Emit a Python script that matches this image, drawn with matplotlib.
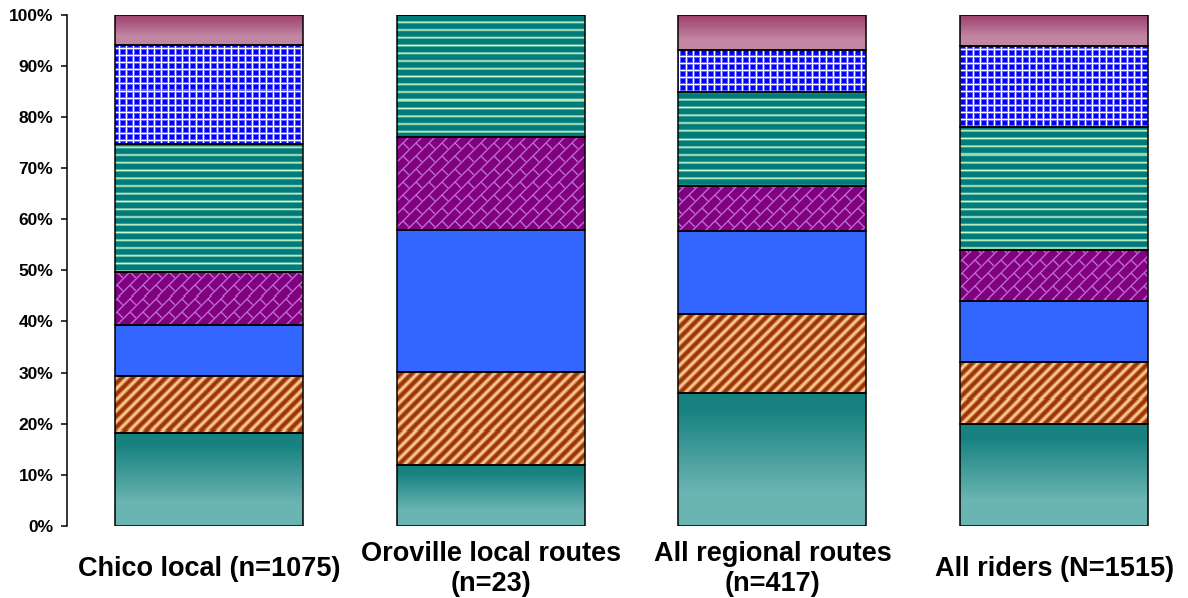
import numpy as np
import matplotlib
matplotlib.use("Agg")
import matplotlib.pyplot as plt
from matplotlib.ticker import MultipleLocator, PercentFormatter

# Categories (one stacked bar each)
categories = ["Chico local (n=1075)", "Oroville local routes\n(n=23)",
              "All regional routes\n(n=417)", "All riders (N=1515)"]

# Share of riders (percent) in each response group, bottom to top
seg1 = [18.1, 11.9, 26.1, 19.9]
seg2 = [11.2, 18.2, 15.4, 12.2]
seg3 = [10.0, 27.8, 16.2, 12.0]
seg4 = [10.4, 18.1, 8.8, 9.9]
seg5 = [25.0, 24.0, 18.4, 24.1]
seg6 = [19.4, 0.0, 8.2, 15.8]
seg7 = [5.9, 0.0, 6.9, 6.1]

series = [seg1, seg2, seg3, seg4, seg5, seg6, seg7]

W, H, DPI = 1188, 598, 100
plt.rcParams["font.family"] = ["Liberation Sans", "DejaVu Sans"]
plt.rcParams["font.weight"] = "bold"

fig = plt.figure(figsize=(W / DPI, H / DPI), dpi=DPI)
ax = fig.add_axes([66.5 / W, (H - 526) / H, 1126.8 / W, (526 - 14.7) / H])


# ---- fill textures, built in figure pixel space ----
def _mix(c0, c1, w):
    c0 = np.asarray(c0, float) / 255
    c1 = np.asarray(c1, float) / 255
    w = np.clip(w, 0, 1)[..., None]
    return c0 * (1 - w) + c1 * w


def tex_teal(cols, rows, frac):
    t = np.clip((frac - 0.12) / 0.62, 0, 1)
    return _mix((22, 129, 127), (106, 180, 178), t)


def tex_stripes(cols, rows, frac):
    a = cols + rows
    w = ((1 + np.cos(2 * np.pi * a / 11.0)) / 2) ** 1.5
    return _mix((153, 51, 0), (255, 204, 153), w)


def tex_blue(cols, rows, frac):
    return _mix((51, 102, 255), (51, 102, 255), np.zeros_like(frac))


def tex_brick(cols, rows, frac):
    a = cols + rows
    b = cols - rows
    pa, pb = 13.0, 26.0
    am = np.mod(a, pa)
    da = np.minimum(am, pa - am)
    w1 = np.clip(1 - da / 1.8, 0, 1)
    k = np.floor(a / pa)
    bm = np.mod(b + np.mod(k, 2) * pb / 2, pb)
    db = np.minimum(bm, pb - bm)
    w2 = np.clip(1 - db / 1.8, 0, 1)
    return _mix((128, 0, 128), (200, 122, 222), np.maximum(w1, w2) * 0.9)


def tex_hstripes(cols, rows, frac):
    p = 7.75
    s = np.mod(rows, p)
    d = np.minimum(s, p - s)
    w = np.clip(1 - d / 1.7, 0, 1)
    return _mix((0, 123, 123), (210, 250, 200), w)


def tex_grid(cols, rows, frac):
    p = 7.0
    sx = np.mod(cols - 0.5, p)
    sy = np.mod(rows - 0.5, p)
    dx = np.minimum(sx, p - sx)
    dy = np.minimum(sy, p - sy)
    w = np.maximum(np.clip(1 - dx * 0.6, 0, 1), np.clip(1 - dy * 0.6, 0, 1))
    w = np.where(np.maximum(dx, dy) > 0, w, 1.0)
    w = np.where(np.minimum(dx, dy) >= 2, 0.0, w)
    return _mix((0, 0, 255), (255, 255, 255), w)


def tex_mauve(cols, rows, frac):
    t = np.clip(frac / 0.7, 0, 1)
    return _mix((154, 56, 104), (194, 134, 163), t)


textures = [tex_teal, tex_stripes, tex_blue, tex_brick, tex_hstripes,
            tex_grid, tex_mauve]

x = np.arange(len(categories))
width = 0.667
ax.set_xlim(-0.506, len(categories) - 0.506)
ax.set_ylim(0, 100)

bottoms = np.zeros(len(categories))
for vals, tex in zip(series, textures):
    vals = np.asarray(vals, float)
    bars = ax.bar(x, vals, width, bottom=bottoms, facecolor="none",
                  edgecolor="black", linewidth=1.1, zorder=3)
    for bar, v, b0 in zip(bars, vals, bottoms):
        if v <= 0:
            continue
        xl, xr = bar.get_x(), bar.get_x() + bar.get_width()
        (px0, py0), (px1, py1) = ax.transData.transform([(xl, b0), (xr, b0 + v)])
        c0, c1 = int(np.floor(px0)), int(np.ceil(px1))
        r0, r1 = int(np.floor(H - py1)), int(np.ceil(H - py0))
        cols, rows = np.meshgrid(np.arange(c0, c1) + 0.5, np.arange(r0, r1) + 0.5)
        frac = (rows - r0) / max(r1 - r0, 1)
        img = tex(cols, rows, frac)
        inv = ax.transData.inverted()
        (dx0, dy0), (dx1, dy1) = inv.transform([(c0, H - r1), (c1, H - r0)])
        im = ax.imshow(img, extent=(dx0, dx1, dy0, dy1), origin="upper",
                       interpolation="nearest", aspect="auto", zorder=2)
        im.set_clip_path(bar)
    bottoms = bottoms + vals

ax.set_xlim(-0.506, len(categories) - 0.506)
ax.set_ylim(0, 100)

# axes styling
for side in ("top", "right", "bottom"):
    ax.spines[side].set_visible(False)
ax.spines["left"].set_linewidth(1.1)
ax.yaxis.set_major_locator(MultipleLocator(10))
ax.yaxis.set_major_formatter(PercentFormatter(decimals=0))
ax.tick_params(axis="y", direction="out", length=4, width=1.1, pad=5.5,
               labelsize=12.5)
for lab in ax.get_yticklabels():
    lab.set_fontweight("bold")

ax.set_xticks(x)
ax.set_xticklabels(categories, fontsize=19.5, fontweight="bold",
                   linespacing=1.22)
ax.tick_params(axis="x", length=0, pad=31)
for lab in ax.get_xticklabels():
    lab.set_verticalalignment("center")

fig.savefig("out.png", dpi=DPI)
